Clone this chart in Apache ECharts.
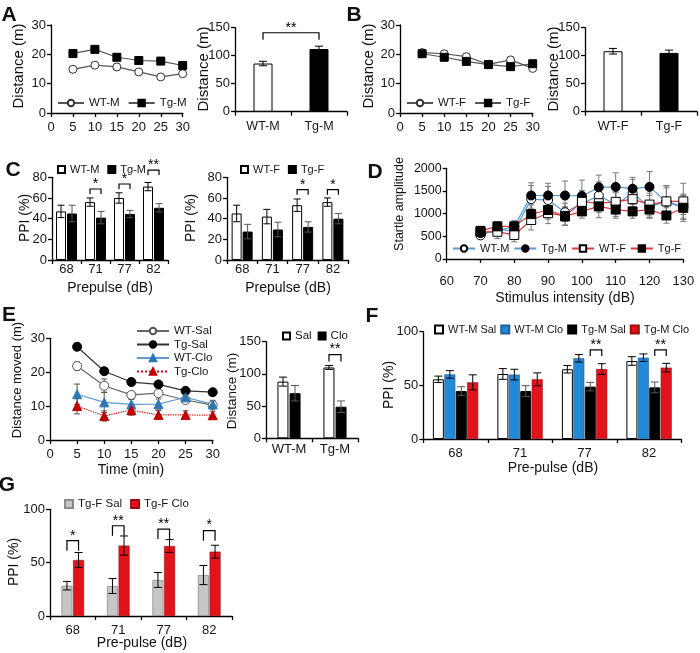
<!DOCTYPE html>
<html><head><meta charset="utf-8">
<script src="https://cdn.jsdelivr.net/npm/echarts@6/dist/echarts.min.js"></script>
<style>html,body{margin:0;padding:0;background:#fff}#c{width:700px;height:653px}</style>
</head><body><div id="c"></div>
<script>
// ---------------- DATA ----------------
const timeMin = [5, 10, 15, 20, 25, 30];
// A: males, open field
const aWT = [14.9, 16.3, 15.7, 14.0, 12.3, 13.4];
const aWTErr = [1.0, 0.8, 1.0, 0.8, 0.8, 0.8];
const aTg = [20.3, 21.7, 19.0, 17.9, 17.7, 16.2];
const aTgErr = [1.0, 0.8, 0.8, 0.7, 0.8, 0.9];
const aCats = ['WT-M', 'Tg-M'];
const aTotal = [86, 112];
const aTotalErr = [4, 5];
const aSig = [[0, 1, 141, '**']];
// B: females, open field
const bWT = [20.6, 20.2, 19.2, 16.6, 18.1, 15.2];
const bWTErr = [1.0, 1.0, 0.9, 0.8, 0.9, 0.7];
const bTg = [20.2, 19.0, 17.6, 16.5, 15.8, 16.8];
const bTgErr = [1.0, 0.8, 0.8, 0.7, 0.7, 0.8];
const bCats = ['WT-F', 'Tg-F'];
const bTotal = [108, 105];
const bTotalErr = [5, 5];
// C: PPI
const prepulse = ['68', '71', '77', '82'];
const cWTM = [47, 56, 60, 71];
const cWTMErr = [6, 4, 5, 4];
const cTgM = [45, 41, 44.5, 50.5];
const cTgMErr = [8, 6, 3.5, 4];
const cSigM = [[1, 68.7, '*'], [2, 73.5, '*'], [3, 87, '**']];
const cWTF = [45, 42, 53, 56];
const cWTFErr = [8, 7, 6, 4];
const cTgF = [27.5, 29.5, 32, 40];
const cTgFErr = [7, 7, 5, 5];
const cSigF = [[2, 68, '*'], [3, 68, '*']];
// D: startle
const stim = [70, 75, 80, 85, 90, 95, 100, 105, 110, 115, 120, 125, 130];
const dWTM = [520, 650, 620, 1320, 1300, 1030, 1220, 1400, 1200, 1450, 1150, 1270, 1150];
const dWTMErr = [80, 100, 120, 300, 300, 200, 250, 300, 300, 300, 250, 300, 250];
const dTgM = [570, 620, 720, 1400, 1400, 1400, 1390, 1580, 1590, 1550, 1590, 1260, 1130];
const dTgMErr = [80, 100, 120, 280, 270, 320, 350, 270, 310, 250, 340, 350, 300];
const dWTF = [600, 600, 530, 860, 1010, 950, 1260, 1230, 1260, 1320, 1200, 1270, 1270];
const dWTFErr = [100, 150, 150, 220, 230, 200, 250, 200, 200, 200, 250, 350, 400];
const dTgF = [620, 720, 720, 990, 1080, 940, 1050, 1160, 1090, 1050, 1090, 960, 1130];
const dTgFErr = [100, 100, 120, 200, 200, 200, 150, 250, 150, 150, 180, 170, 150];
// E: clozapine, open field
const eWTSal = [21.8, 16.0, 13.3, 13.8, 11.8, 10.3];
const eWTSalErr = [1.2, 2.0, 1.0, 1.0, 1.0, 0.8];
const eTgSal = [27.5, 20.3, 17.1, 16.4, 14.5, 14.1];
const eTgSalErr = [1.0, 1.0, 0.6, 0.8, 0.7, 0.8];
const eWTClo = [13.5, 11.1, 10.5, 10.6, 12.6, 10.5];
const eWTCloErr = [3.0, 3.0, 1.5, 1.5, 1.5, 1.2];
const eTgClo = [10.0, 7.1, 8.8, 7.4, 7.4, 7.3];
const eTgCloErr = [2.3, 1.5, 1.5, 1.3, 1.2, 1.2];
const eCats = ['WT-M', 'Tg-M'];
const eSal = [88, 110];
const eSalErr = [7, 3];
const eClo = [70, 49];
const eCloErr = [12, 9];
const eSig = [[1, 130, '**']];
// F: PPI males, clozapine
const fWTSal = [55.6, 60.6, 65, 72.7];
const fWTSalErr = [3, 5, 3.5, 4];
const fWTClo = [60.2, 60, 75.2, 75.8];
const fWTCloErr = [3.5, 5, 3.5, 3.5];
const fTgSal = [44.7, 44.7, 48.8, 48.1];
const fTgSalErr = [4, 5, 4, 5];
const fTgClo = [52.8, 55.6, 65.2, 66.5];
const fTgCloErr = [7, 6, 5, 4];
const fSig = [[2, 83, '**'], [3, 83, '**']];
// G: PPI females, clozapine
const gSal = [28.4, 28.1, 33.8, 38.4];
const gSalErr = [4, 7, 7, 9];
const gClo = [52.5, 66, 65.6, 60.3];
const gCloErr = [7, 9, 6, 6];
const gSig = [[0, 70.6, '*'], [1, 84.6, '**'], [2, 81.5, '**'], [3, 80, '*']];

// ---------------- HELPERS ----------------
const FONT = '"Liberation Sans", Arial, Helvetica, sans-serif';
const INK = '#161616';
const AX = {color: '#000', width: 1.3};
const LBL = {fontFamily: FONT, color: INK, fontSize: 13};

function xVal(gi, min, max, interval, margin) {
  return {type: 'value', gridIndex: gi, min, max, interval,
    axisLine: {show: true, onZero: false, lineStyle: AX},
    axisTick: {show: true, length: 4, lineStyle: AX},
    axisLabel: Object.assign({margin}, LBL), splitLine: {show: false}};
}
function xCat(gi, data, margin, fs) {
  return {type: 'category', gridIndex: gi, data,
    axisLine: {show: true, onZero: false, lineStyle: AX},
    axisTick: {show: true, length: 4, lineStyle: AX},
    axisLabel: Object.assign({margin, interval: 0, hideOverlap: false}, LBL, {fontSize: fs || 13}),
    splitLine: {show: false}};
}
function yVal(gi, min, max, interval, fs) {
  return {type: 'value', gridIndex: gi, min, max, interval,
    axisLine: {show: true, lineStyle: AX},
    axisTick: {show: true, length: 4, lineStyle: AX},
    axisLabel: Object.assign({}, LBL, {margin: 5, fontSize: fs || 13, formatter: v => String(v)}),
    splitLine: {show: false}};
}
function errBars(xi, yi, xs, vals, errs, off, cap, color, z) {
  return {type: 'custom', xAxisIndex: xi, yAxisIndex: yi, silent: true, z: z, clip: false,
    data: vals.map((v, i) => [xs ? xs[i] : i, v, errs[i]]),
    renderItem: (params, api) => {
      const x = api.value(0), v = api.value(1), e = api.value(2);
      const hi = api.coord([x, v + e]), lo = api.coord([x, v - e]);
      const cx = hi[0] + off;
      const st = {stroke: color, lineWidth: 1};
      return {type: 'group', children: [
        {type: 'line', shape: {x1: cx, y1: hi[1], x2: cx, y2: lo[1]}, style: st},
        {type: 'line', shape: {x1: cx - cap, y1: hi[1], x2: cx + cap, y2: hi[1]}, style: st},
        {type: 'line', shape: {x1: cx - cap, y1: lo[1], x2: cx + cap, y2: lo[1]}, style: st}
      ]};
    }};
}
// sig: [cat, top, label] or [catA, catB, top, label]
function sigBrackets(xi, yi, items, offA, offB, drop) {
  const norm = items.map(it => it.length === 3 ? [it[0], it[0], it[1], it[2]] : it);
  return {type: 'custom', xAxisIndex: xi, yAxisIndex: yi, silent: true, z: 8, clip: false,
    data: norm.map(it => [it[0], it[2], it[1]]),
    renderItem: (params, api) => {
      const it = norm[params.dataIndex];
      const pa = api.coord([it[0], it[2]]), pb = api.coord([it[1], it[2]]);
      const x1 = pa[0] + offA, x2 = pb[0] + offB, y = pa[1];
      return {type: 'group', children: [
        {type: 'polyline', shape: {points: [[x1, y + drop], [x1, y], [x2, y], [x2, y + drop]]},
          style: {stroke: '#000', lineWidth: 1.2, fill: null}},
        {type: 'text', x: (x1 + x2) / 2, y: y + 2,
          style: {text: it[3], fontSize: 14, fontFamily: FONT, fill: '#000', align: 'center', verticalAlign: 'bottom'}}
      ]};
    }};
}
function legend(left, top, names, extra) {
  return Object.assign({left, top, width: 320, data: names, selectedMode: false, padding: 0,
    formatter: n => n.split(':')[1], itemGap: 8, itemWidth: 26, itemHeight: 8,
    textStyle: {fontSize: 11.5, fontFamily: FONT, color: INK}}, extra || {});
}
function barLegend(left, top, names, extra) {
  const l = legend(left, top, names, extra);
  l.data = names.map(n => ({name: n, icon: 'rect'}));
  return l;
}
function txt(x, y, text, fs, opt) {
  opt = opt || {};
  return {type: 'text', x, y, rotation: opt.rot || 0,
    style: {text, fontSize: fs, fontWeight: opt.bold ? 'bold' : 'normal', fontFamily: FONT,
      fill: '#111', align: 'center', verticalAlign: 'middle'}};
}
const W = {color: '#fff', borderColor: '#000', borderWidth: 1};
const K = {color: '#000', borderColor: '#000', borderWidth: 1};
const BLUE_BAR = '#2189d6', RED_BAR = '#e3131b';
const LBLUE = '#5b9bd5', DRED = '#e03a3a';

// grids: 0 Aline 1 Abar 2 Bline 3 Bbar 4 CL 5 CR 6 D 7 Eline 8 Ebar 9 F 10 G
const grid = [
  {left: 51, top: 25, width: 131.7, height: 88},
  {left: 235, top: 27.7, width: 112, height: 84},
  {left: 400, top: 25, width: 132.7, height: 88},
  {left: 585, top: 27.7, width: 112, height: 84},
  {left: 52, top: 177.3, width: 116, height: 82.7},
  {left: 227, top: 177.3, width: 121, height: 82.7},
  {left: 446.7, top: 168.3, width: 236.6, height: 90.7},
  {left: 50, top: 338.3, width: 162.7, height: 101.7},
  {left: 266, top: 341.7, width: 92, height: 96.6},
  {left: 423.3, top: 331.7, width: 258, height: 107.3},
  {left: 50, top: 509.3, width: 182, height: 106.7}
];
const xAxis = [
  xVal(0, 0, 30, 5, 8), xCat(1, aCats, 8, 12.5), xVal(2, 0, 30, 5, 8), xCat(3, bCats, 8, 12.5),
  xCat(4, prepulse, 3), xCat(5, prepulse, 3), xVal(6, 60, 130, 10, 16),
  xVal(7, 0, 30, 5, 8), xCat(8, eCats, 5, 13), xCat(9, prepulse, 8), xCat(10, prepulse, 8)
];
const yAxis = [
  yVal(0, 0, 30, 10), yVal(1, 0, 150, 50), yVal(2, 0, 30, 10), yVal(3, 0, 150, 50),
  yVal(4, 0, 80, 20), yVal(5, 0, 80, 20), yVal(6, 0, 2000, 500, 12.5),
  yVal(7, 0, 30, 10), yVal(8, 0, 150, 50), yVal(9, 0, 100, 50), yVal(10, 0, 100, 50)
];

function lineS(name, xi, yi, xs, ys, symbol, size, fill, border, lineColor, lineType) {
  return {name, type: 'line', xAxisIndex: xi, yAxisIndex: yi, z: 4,
    data: xs.map((x, i) => [x, ys[i]]), symbol, symbolSize: size, showSymbol: true,
    itemStyle: {color: fill, borderColor: border, borderWidth: 1},
    lineStyle: {color: lineColor, width: 1.2, type: lineType || 'solid'}};
}
function barS(name, xi, yi, vals, style, width, gap) {
  return {name, type: 'bar', xAxisIndex: xi, yAxisIndex: yi, z: 2,
    data: vals, barWidth: width, barGap: gap, itemStyle: style};
}

const series = [
  // A line
  errBars(0, 0, timeMin, aWT, aWTErr, 0, 3, '#555', 1),
  errBars(0, 0, timeMin, aTg, aTgErr, 0, 3, '#555', 1),
  lineS('A:WT-M', 0, 0, timeMin, aWT, 'circle', 8, '#fff', '#333', '#555'),
  lineS('A:Tg-M', 0, 0, timeMin, aTg, 'rect', 8, '#000', '#000', '#555'),
  // A bar
  {type: 'bar', xAxisIndex: 1, yAxisIndex: 1, z: 2, barWidth: 19,
    data: [{value: aTotal[0], itemStyle: W}, {value: aTotal[1], itemStyle: K}]},
  errBars(1, 1, null, aTotal, aTotalErr, 0, 4, '#000', 3),
  sigBrackets(1, 1, aSig, 0, 0, 7),
  // B line
  errBars(2, 2, timeMin, bWT, bWTErr, 0, 3, '#555', 1),
  errBars(2, 2, timeMin, bTg, bTgErr, 0, 3, '#555', 1),
  lineS('B:WT-F', 2, 2, timeMin, bWT, 'circle', 8, '#fff', '#333', '#555'),
  lineS('B:Tg-F', 2, 2, timeMin, bTg, 'rect', 8, '#000', '#000', '#555'),
  // B bar
  {type: 'bar', xAxisIndex: 3, yAxisIndex: 3, z: 2, barWidth: 19,
    data: [{value: bTotal[0], itemStyle: W}, {value: bTotal[1], itemStyle: K}]},
  errBars(3, 3, null, bTotal, bTotalErr, 0, 4, '#000', 3),
  // C left
  barS('C:WT-M', 4, 4, cWTM, W, 10, '10%'),
  barS('C:Tg-M', 4, 4, cTgM, K, 10, '10%'),
  errBars(4, 4, null, cWTM, cWTMErr, -5.5, 3.5, '#000', 3),
  errBars(4, 4, null, cTgM, cTgMErr, 5.5, 3.5, '#555', 3),
  sigBrackets(4, 4, cSigM, -5.5, 5.5, 5),
  // C right
  barS('CR:WT-F', 5, 5, cWTF, W, 10, '10%'),
  barS('CR:Tg-F', 5, 5, cTgF, K, 10, '10%'),
  errBars(5, 5, null, cWTF, cWTFErr, -5.5, 3.5, '#000', 3),
  errBars(5, 5, null, cTgF, cTgFErr, 5.5, 3.5, '#555', 3),
  sigBrackets(5, 5, cSigF, -5.5, 5.5, 5),
  // D
  errBars(6, 6, stim, dWTM, dWTMErr, 0, 3, '#777', 1),
  errBars(6, 6, stim, dTgM, dTgMErr, 0, 3, '#777', 1),
  errBars(6, 6, stim, dWTF, dWTFErr, 0, 3, '#777', 1),
  errBars(6, 6, stim, dTgF, dTgFErr, 0, 3, '#777', 1),
  lineS('D:WT-M', 6, 6, stim, dWTM, 'circle', 9, '#fff', '#000', LBLUE),
  lineS('D:Tg-M', 6, 6, stim, dTgM, 'circle', 9, '#000', '#000', LBLUE),
  lineS('D:WT-F', 6, 6, stim, dWTF, 'rect', 9, '#fff', '#000', DRED),
  lineS('D:Tg-F', 6, 6, stim, dTgF, 'rect', 9, '#000', '#000', DRED),
  // E line
  errBars(7, 7, timeMin, eWTSal, eWTSalErr, 0, 3, '#555', 1),
  errBars(7, 7, timeMin, eTgSal, eTgSalErr, 0, 3, '#555', 1),
  errBars(7, 7, timeMin, eWTClo, eWTCloErr, 0, 3, '#555', 1),
  errBars(7, 7, timeMin, eTgClo, eTgCloErr, 0, 3, '#555', 1),
  lineS('E:WT-Sal', 7, 7, timeMin, eWTSal, 'circle', 9, '#fff', '#555', '#666'),
  lineS('E:Tg-Sal', 7, 7, timeMin, eTgSal, 'circle', 9, '#000', '#000', '#333'),
  lineS('E:WT-Clo', 7, 7, timeMin, eWTClo, 'triangle', 9, '#2e75b6', '#2e75b6', LBLUE),
  lineS('E:Tg-Clo', 7, 7, timeMin, eTgClo, 'triangle', 9, '#c00000', '#c00000', '#e00000', 'dotted'),
  // E bar
  barS('Eb:Sal', 8, 8, eSal, W, 11, '10%'),
  barS('Eb:Clo', 8, 8, eClo, K, 11, '10%'),
  errBars(8, 8, null, eSal, eSalErr, -6, 4, '#000', 3),
  errBars(8, 8, null, eClo, eCloErr, 6, 4, '#555', 3),
  sigBrackets(8, 8, eSig, -6, 6, 7),
  // F
  barS('F:WT-M Sal', 9, 9, fWTSal, W, 11, '4%'),
  barS('F:WT-M Clo', 9, 9, fWTClo, {color: BLUE_BAR, borderColor: '#1a5f96', borderWidth: 0.6}, 11, '4%'),
  barS('F:Tg-M Sal', 9, 9, fTgSal, K, 11, '4%'),
  barS('F:Tg-M Clo', 9, 9, fTgClo, {color: RED_BAR, borderColor: '#9a0c10', borderWidth: 0.6}, 11, '4%'),
  errBars(9, 9, null, fWTSal, fWTSalErr, -17.2, 4, '#000', 3),
  errBars(9, 9, null, fWTClo, fWTCloErr, -5.7, 4, '#000', 3),
  errBars(9, 9, null, fTgSal, fTgSalErr, 5.7, 4, '#555', 3),
  errBars(9, 9, null, fTgClo, fTgCloErr, 17.2, 4, '#000', 3),
  sigBrackets(9, 9, fSig, 5.7, 17.2, 6),
  // G
  barS('G:Tg-F Sal', 10, 10, gSal, {color: '#c6c6c6', borderColor: '#8a8a8a', borderWidth: 0.8}, 11, '6%'),
  barS('G:Tg-F Clo', 10, 10, gClo, {color: RED_BAR, borderColor: '#9a0c10', borderWidth: 0.6}, 11, '6%'),
  errBars(10, 10, null, gSal, gSalErr, -5.8, 4, '#000', 3),
  errBars(10, 10, null, gClo, gCloErr, 5.8, 4, '#000', 3),
  sigBrackets(10, 10, gSig, -5.8, 5.8, 10)
];

const legends = [
  legend(57, 97, ['A:WT-M', 'A:Tg-M']),
  legend(406, 97, ['B:WT-F', 'B:Tg-F']),
  barLegend(57, 164, ['C:WT-M', 'C:Tg-M'], {itemWidth: 7, itemHeight: 7, itemGap: 8, textStyle: {fontSize: 11, fontFamily: FONT, color: INK}}),
  barLegend(240, 164, ['CR:WT-F', 'CR:Tg-F'], {itemWidth: 7, itemHeight: 7, itemGap: 8, textStyle: {fontSize: 11, fontFamily: FONT, color: INK}}),
  legend(452, 243, ['D:WT-M', 'D:Tg-M', 'D:WT-F', 'D:Tg-F'], {itemGap: 4, itemWidth: 22, textStyle: {fontSize: 11, fontFamily: FONT, color: INK}}),
  legend(136, 325, ['E:WT-Sal', 'E:Tg-Sal', 'E:WT-Clo', 'E:Tg-Clo'], {orient: 'vertical', itemWidth: 32, itemGap: 1.5}),
  barLegend(282, 330, ['Eb:Sal', 'Eb:Clo'], {itemWidth: 7, itemHeight: 7, itemGap: 6}),
  barLegend(434, 324, ['F:WT-M Sal', 'F:WT-M Clo', 'F:Tg-M Sal', 'F:Tg-M Clo'], {itemWidth: 8, itemHeight: 8, itemGap: 4, textStyle: {fontSize: 11, fontFamily: FONT, color: INK}}),
  barLegend(64, 498, ['G:Tg-F Sal', 'G:Tg-F Clo'], {itemWidth: 8, itemHeight: 8, itemGap: 8})
];

const R = Math.PI / 2;
const graphic = [
  txt(9, 15, 'A', 21, {bold: true}), txt(354, 15, 'B', 21, {bold: true}),
  txt(13, 170, 'C', 21, {bold: true}), txt(375, 172, 'D', 21, {bold: true}),
  txt(9, 315, 'E', 21, {bold: true}), txt(372, 316, 'F', 21, {bold: true}),
  txt(7, 485, 'G', 21, {bold: true}),
  txt(19, 66, 'Distance (m)', 15, {rot: R}), txt(204, 69, 'Distance (m)', 15, {rot: R}),
  txt(369, 66, 'Distance (m)', 15, {rot: R}), txt(554, 69, 'Distance (m)', 15, {rot: R}),
  txt(25, 218, 'PPI (%)', 14, {rot: R}), txt(191, 218, 'PPI (%)', 14, {rot: R}),
  txt(110, 288, 'Prepulse (dB)', 14), txt(288, 288, 'Prepulse (dB)', 14),
  txt(400, 204, 'Startle amplitude', 12.5, {rot: R}), txt(565, 298, 'Stimulus intensity (dB)', 14),
  txt(17, 380, 'Distance moved (m)', 13, {rot: R}), txt(131, 470, 'Time (min)', 14),
  txt(232, 391, 'Distance (m)', 13.5, {rot: R}),
  txt(389, 385, 'PPI (%)', 14, {rot: R}), txt(553, 468, 'Pre-pulse (dB)', 14),
  txt(14, 562, 'PPI (%)', 14, {rot: R}), txt(142, 643, 'Pre-pulse (dB)', 14)
];

const chart = echarts.init(document.getElementById('c'), null, {renderer: 'canvas'});
chart.setOption({animation: false, backgroundColor: '#fff', textStyle: {fontFamily: FONT},
  grid, xAxis, yAxis, legend: legends, graphic, series});
</script>
</body></html>
